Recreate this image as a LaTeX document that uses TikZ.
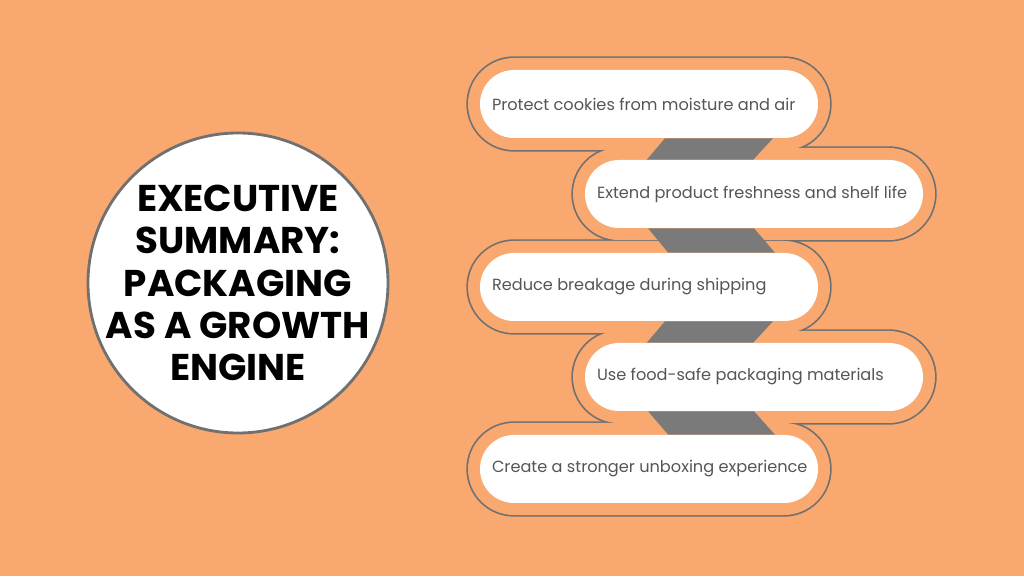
\documentclass[tikz,border=0pt]{standalone}
\usepackage{fontspec}
\setmainfont{Poppins}
\usetikzlibrary{calc}
\definecolor{bgorange}{HTML}{F9A870}
\definecolor{rimgray}{HTML}{707070}
\definecolor{linkgray}{HTML}{7A7A7A}
\definecolor{txtgray}{HTML}{555555}
\tikzset{
	pill/.style={fill=white, rounded corners=0.85cm, minimum width=8.45cm, minimum height=1.7cm, inner sep=0pt},
	rim/.style={rounded corners=1.15cm, minimum width=9.05cm, minimum height=2.3cm, inner sep=0pt},
	pilltext/.style={anchor=west, font=\fontsize{11.5}{14}\selectfont, text=txtgray, inner sep=0pt},
}
\begin{document}
\begin{tikzpicture}
	\fill[bgorange] (0,0) rectangle (25.6,14.4);
	\useasboundingbox (0,0) rectangle (25.6,14.4);
	% rims: thick gray first, then orange on top gives the merged outline
	\foreach \i/\x/\y in {1/16.225/11.8,2/18.85/9.55,3/16.225/7.225,4/18.85/4.975,5/16.225/2.675}
		\node[rim, draw=rimgray, line width=2.4pt] at (\x,\y) (r\i) {};
	\foreach \i/\x/\y in {1/16.225/11.8,2/18.85/9.55,3/16.225/7.225,4/18.85/4.975,5/16.225/2.675}
		\node[rim, fill=bgorange] at (\x,\y) (q\i) {};
	% pills
	\foreach \i/\x/\y in {1/16.225/11.8,2/18.85/9.55,3/16.225/7.225,4/18.85/4.975,5/16.225/2.675}
		\node[pill] at (\x,\y) (p\i) {};
	% links between pills
	\foreach \a/\b/\ta/\tb/\ba/\bb in {1/2/0.4/3.1/-2.68/-0.02, 2/3/-2.65/0/0.48/3.15, 3/4/0.4/3.1/-2.68/-0.02, 4/5/-2.65/0/0.48/3.15}
		\fill[linkgray] ($(p\a.south)+(\ta,0)$) -- ($(p\a.south)+(\tb,0)$) -- ($(p\b.north)+(\bb,0)$) -- ($(p\b.north)+(\ba,0)$) -- cycle;
	% texts
	\node[pilltext] at ($(p1.west)+(0.3,0)$) (t1) {Protect cookies from moisture and air};
	\node[pilltext] at ($(p2.west)+(0.3,0)$) (t2) {Extend product freshness and shelf life};
	\node[pilltext] at ($(p3.west)+(0.3,0)$) (t3) {Reduce breakage during shipping};
	\node[pilltext] at ($(p4.west)+(0.3,0)$) (t4) {Use food-safe packaging materials};
	\node[pilltext] at ($(p5.west)+(0.3,0)$) (t5) {Create a stronger unboxing experience};
	% summary circle
	\node[circle, fill=white, draw=rimgray, line width=2pt, minimum size=7.5cm] at (5.95,7.325) (sum) {};
	\node[align=center, font=\bfseries\fontsize{26.5}{30}\selectfont] at (sum) (title) {EXECUTIVE\\SUMMARY:\\PACKAGING\\AS A GROWTH\\ENGINE};
\end{tikzpicture}
\end{document}
